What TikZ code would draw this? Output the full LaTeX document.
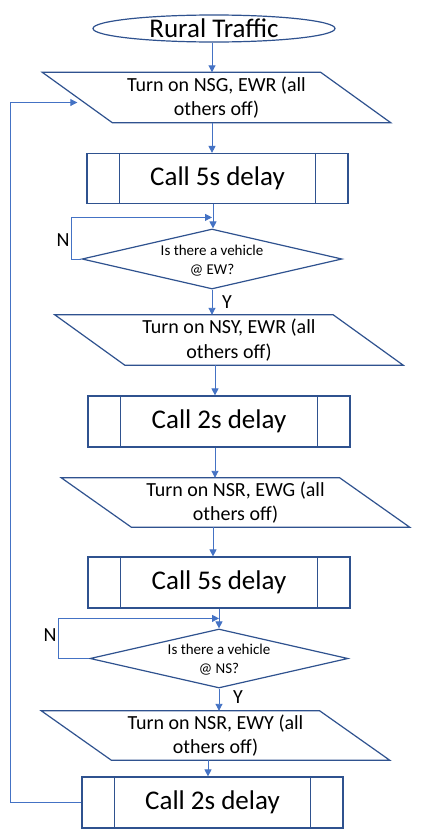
\documentclass[tikz,border=0pt]{standalone}
\usepackage{fontspec}
\setmainfont{Carlito}
\usetikzlibrary{shapes.geometric,arrows.meta,calc}
\definecolor{shapeblue}{HTML}{2F528F}
\definecolor{linkblue}{HTML}{4472C4}
\tikzset{
 outl/.style={draw=shapeblue, line width=1.2pt},
 arr/.style={draw=linkblue, line width=0.9pt, -{Triangle[length=7pt,width=7pt]}},
 procbox/.style={outl, rectangle, minimum width=261pt, minimum height=50pt, inner sep=0pt, font=\fontsize{27}{32}\selectfont},
 iobox/.style={rectangle, minimum width=278pt, minimum height=50pt, inner sep=0pt, align=center, font=\fontsize{20}{24.5}\selectfont},
 decision/.style={outl, diamond, aspect=4.33, inner sep=0pt},
 dtext/.style={align=center, font=\fontsize{15}{19}\selectfont, inner sep=0pt},
 yn/.style={font=\fontsize{20}{24}\selectfont, inner sep=0pt},
}
\newcommand\drawpara[1]{\draw[outl] ($(#1.north west)+(-35,0)$) -- ($(#1.north east)+(-35,0)$) -- ($(#1.south east)+(35,0)$) -- ($(#1.south west)+(35,0)$) -- cycle;}
\newcommand\subrlines[1]{\draw[outl] ([xshift=33pt]#1.north west) -- ([xshift=33pt]#1.south west); \draw[outl] ([xshift=-33pt]#1.north east) -- ([xshift=-33pt]#1.south east);}
\begin{document}
\begin{tikzpicture}[x=1pt,y=-1pt]
\useasboundingbox[fill=white] (0,0) rectangle (438,838);
% start
\node[outl, ellipse, minimum width=242pt, minimum height=27pt, inner sep=0pt] (e) at (214,28.5) {};
\node[font=\fontsize{27}{32}\selectfont, inner sep=0pt] (et) at (e.center) {Rural Traffic};
% step 1
\node[iobox] (p1) at (216.5,97.5) {Turn on NSG, EWR (all\\others off)};
\drawpara{p1}
\node[procbox] (b1) at (217.5,178.5) {Call 5s delay};
\subrlines{b1}
\node[decision, minimum width=260pt, minimum height=60pt] (d1) at (212,259) {};
\node[dtext] (d1t) at ([yshift=-1.5pt]d1.center) {Is there a vehicle\\@ EW?};
% step 2
\node[iobox] (p2) at (229,340) {Turn on NSY, EWR (all\\others off)};
\drawpara{p2}
\node[procbox, minimum width=262pt, minimum height=51pt] (b2) at (219,421.5) {Call 2s delay};
\subrlines{b2}
\node[iobox, minimum height=49pt] (p3) at (235.5,502.5) {Turn on NSR, EWG (all\\others off)};
\drawpara{p3}
\node[procbox, minimum width=262pt, minimum height=51pt] (b3) at (219,582.5) {Call 5s delay};
\subrlines{b3}
\node[decision, minimum width=258pt, minimum height=59pt] (d2) at (219,658.5) {};
\node[dtext] (d2t) at ([yshift=-1.5pt]d2.center) {Is there a vehicle\\@ NS?};
\node[iobox, minimum height=49pt] (p4) at (215.5,735.5) {Turn on NSR, EWY (all\\others off)};
\drawpara{p4}
\node[procbox, minimum height=51pt] (b4) at (212.5,802.5) {Call 2s delay};
\subrlines{b4}
% labels
\node[yn] (n1) at (63,240) {N};
\node[yn] (y1) at (227,302) {Y};
\node[yn] (n2) at (50,635) {N};
\node[yn] (y2) at (238,697) {Y};
% connectors
\draw[arr] ([xshift=-2pt]e.south) -- ([xshift=-2pt]e.south |- p1.north);
\draw[arr] ([xshift=-4.5pt]p1.south) -- ([xshift=-4.5pt]p1.south |- b1.north);
\draw[arr] ([xshift=1pt]d1.north |- b1.south) -- ([xshift=1pt]d1.north);
\draw[arr] (d1.west) -- ++(-10,0) |- ([yshift=11pt]d1.north);
\draw[arr] (d1.south) -- (d1.south |- p2.north);
\draw[arr] ([xshift=-14pt]p2.south) -- ([xshift=-14pt]p2.south |- b2.north);
\draw[arr] ([xshift=-4pt]b2.south) -- ([xshift=-4pt]b2.south |- p3.north);
\draw[arr] ([xshift=-22.5pt]p3.south) -- ([xshift=-22.5pt]p3.south |- b3.north);
\draw[arr] (d2.north |- b3.south) -- (d2.north);
\draw[arr] (d2.west) -- ++(-31,0) |- ([yshift=10pt]d2.north);
\draw[arr] (d2.south) -- (d2.south |- p4.north);
\draw[arr] ([xshift=-7.5pt]p4.south) -- ([xshift=-7.5pt]p4.south |- b4.north);
\draw[arr] (b4.west) -- ++(-71,0) |- ([yshift=-5pt]p1.west);
\end{tikzpicture}
\end{document}
